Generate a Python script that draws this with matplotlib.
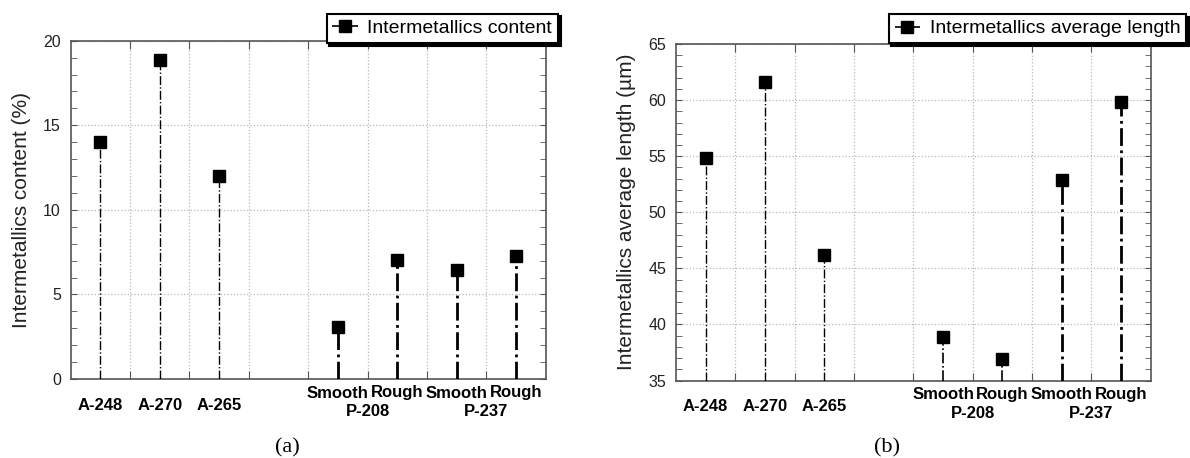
import numpy as np
import matplotlib.pyplot as plt
from matplotlib.lines import Line2D

plt.rcParams['font.family'] = ['Liberation Sans', 'DejaVu Sans']

samples = ["A-248", "A-270", "A-265", "Smooth", "Rough", "Smooth", "Rough"]
sample_pos = [0.5, 1.5, 2.5, 4.5, 5.5, 6.5, 7.5]
groups = ["P-208", "P-237"]
group_members = [(3, 4), (5, 6)]

content = [14.0, 18.85, 12.0, 3.1, 7.05, 6.45, 7.25]
avg_length = [54.8, 61.65, 46.2, 38.9, 36.9, 52.9, 59.85]

stem_w_a = [1.0, 1.0, 1.0, 2.0, 2.0, 2.0, 2.0]
stem_w_b = [1.0, 1.0, 1.0, 1.2, 1.2, 2.0, 2.0]

W, H = 1190, 458
fig = plt.figure(figsize=(W / 100, H / 100), dpi=100)


def px_axes(l, t, r, b):
    return fig.add_axes([l / W, 1 - b / H, (r - l) / W, (b - t) / H])


def draw_panel(ax, vals, widths, ylim, ylabel, legend_text, legend_anchor):
    ax.vlines(sample_pos, ylim[0], vals, colors='black', linestyles='-.',
              linewidths=widths, zorder=3)
    ax.plot(sample_pos, vals, 's', color='black', markersize=9, zorder=4)
    ax.set_xlim(0, 8)
    ax.set_ylim(*ylim)
    ax.set_xticks(np.arange(1, 8))
    ax.set_xticklabels([])
    ax.set_yticks(np.arange(ylim[0], ylim[1] + 1, 5))
    ax.set_yticks(np.arange(ylim[0], ylim[1] + 1, 1), minor=True)
    ax.tick_params(axis='x', which='major', direction='in', length=6,
                   top=True, color='#555555')
    ax.tick_params(axis='y', which='both', direction='in', length=4,
                   right=True, color='#555555', labelsize=11.5, pad=7,
                   labelcolor='#222222')
    ax.grid(True, which='major', linestyle=':', color='#b8b8b8', linewidth=0.9)
    for s in ax.spines.values():
        s.set_color('#555555')
        s.set_linewidth(1.2)
    ax.set_ylabel(ylabel, fontsize=15, labelpad=9, color='#222222')

    tr = ax.get_xaxis_transform()
    for x, lab in zip(sample_pos, samples):
        off = -26 if lab.startswith('A') else -14
        ax.annotate(lab, xy=(x, 0), xycoords=tr, xytext=(0, off * 0.72),
                    textcoords='offset points', ha='center', va='center',
                    fontsize=12, fontweight='bold')
    for g, (i, j) in zip(groups, group_members):
        gx = (sample_pos[i] + sample_pos[j]) / 2
        ax.annotate(g, xy=(gx, 0), xycoords=tr, xytext=(0, -33 * 0.72),
                    textcoords='offset points', ha='center', va='center',
                    fontsize=12, fontweight='bold')

    handle = Line2D([], [], color='black', linestyle='-.', marker='s',
                    markersize=8, linewidth=1.2)
    leg = ax.legend([handle], [legend_text], loc='upper right',
                    bbox_to_anchor=legend_anchor, bbox_transform=fig.transFigure,
                    borderaxespad=0, fontsize=14, handlelength=1.3,
                    handletextpad=0.5, borderpad=0.3, fancybox=False,
                    shadow={'color': 'black', 'alpha': 1})
    leg.get_frame().set_edgecolor('black')
    leg.get_frame().set_linewidth(1.5)
    leg.set_zorder(10)


ax_a = px_axes(70.7, 40.7, 545.7, 379)
draw_panel(ax_a, content, stem_w_a, (0, 20), "Intermetallics content (%)",
           "Intermetallics content", (558 / W, 1 - 13.5 / H))

ax_b = px_axes(676, 44, 1150.7, 380.5)
draw_panel(ax_b, avg_length, stem_w_b, (35, 65),
           "Intermetallics average length (\u00b5m)",
           "Intermetallics average length", (1186 / W, 1 - 14 / H))

fig.text(287 / W, 1 - 448 / H, "(a)", ha='center', va='center',
         fontsize=16, family='Liberation Serif')
fig.text(887 / W, 1 - 448 / H, "(b)", ha='center', va='center',
         fontsize=16, family='Liberation Serif')

fig.savefig('out.png', dpi=100)
